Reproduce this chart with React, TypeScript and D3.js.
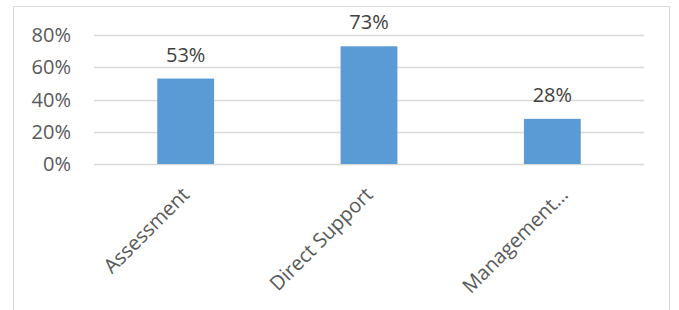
import React from 'react'
import { scaleBand, scaleLinear } from "d3";

const categories = ["Assessment", "Direct Support", "Management…"];
const values = [0.53, 0.73, 0.28];
const tickValues = [0, 0.2, 0.4, 0.6, 0.8];
const tickLabels = ["0%", "20%", "40%", "60%", "80%"];

const W = 679;
const H = 310;
const FONT = "'Open Sans', 'DejaVu Sans', sans-serif";

const App = () => {
    // plot area
    const x = scaleBand<string>()
        .domain(categories)
        .range([94, 644])
        .paddingInner(0.69)
        .paddingOuter(0.345);
    const y = scaleLinear().domain([0, 0.8]).range([164, 35]);

    return (
        <svg width={W} height={H} style={{ position: "absolute", left: 0, top: 0, background: "#fff" }}
            fontFamily={FONT}>
            <rect x={13.5} y={6.5} width={656} height={330} fill="#fff" stroke="#d9d9d9" strokeWidth={1} />

            {/* gridlines */}
            {tickValues.map(t => (
                <line key={"g" + t} x1={94} x2={644} y1={Math.round(y(t)) + 0.5} y2={Math.round(y(t)) + 0.5}
                    stroke="#d9d9d9" strokeWidth={1.3} />
            ))}

            {/* y tick labels */}
            {tickValues.map((t, i) => (
                <text key={"t" + t} x={71} y={y(t)} dy="0.35em" textAnchor="end" fontSize={20} fill="#595959">
                    {tickLabels[i]}
                </text>
            ))}

            {/* bars */}
            {categories.map((c, i) => (
                <rect key={c} x={x(c)} y={y(values[i])} width={x.bandwidth()} height={y(0) - y(values[i])}
                    fill="#5b9bd5" />
            ))}

            {/* data labels */}
            {categories.map((c, i) => (
                <text key={"v" + c} x={(x(c) ?? 0) + x.bandwidth() / 2} y={y(values[i]) - 17}
                    textAnchor="middle" fontSize={20} fill="#404040">
                    {Math.round(values[i] * 100) + "%"}
                </text>
            ))}

            {/* category labels, rotated; truncated ones sit a bit further right */}
            {categories.map(c => {
                const extra = c.endsWith("…") ? 12 : 0;
                const cx = (x(c) ?? 0) + x.bandwidth() / 2 + 5 + extra;
                const cy = 196;
                return (
                    <text key={"c" + c} transform={`translate(${cx},${cy}) rotate(-45)`}
                        textAnchor="end" fontSize={20} fill="#595959">
                        {c}
                    </text>
                );
            })}
        </svg>
    );
};

export default App;
